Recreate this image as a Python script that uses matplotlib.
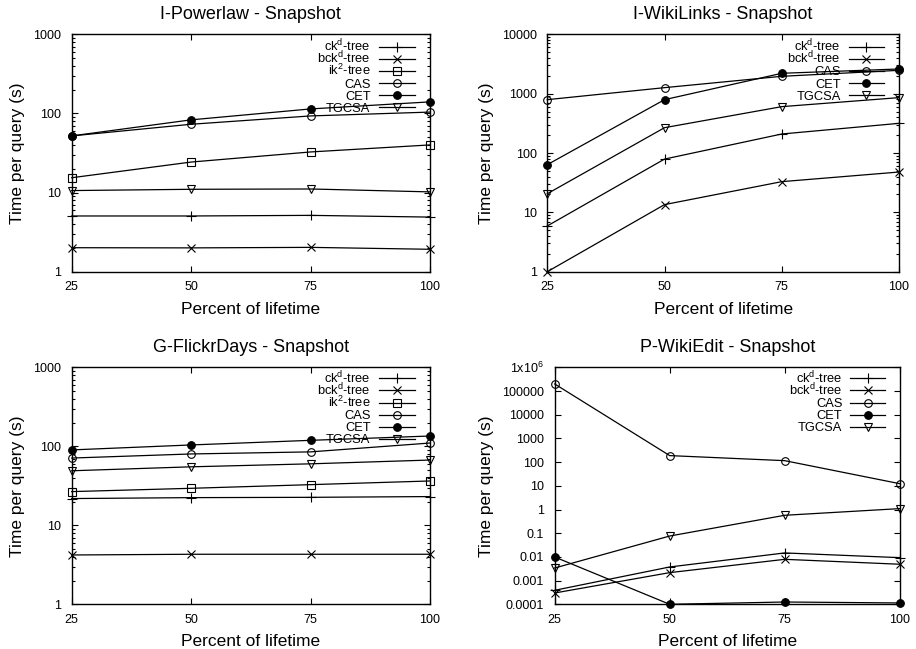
import matplotlib
matplotlib.use("Agg")
import matplotlib.pyplot as plt
from matplotlib.lines import Line2D
from matplotlib.ticker import FixedLocator, LogLocator, NullFormatter, FuncFormatter

plt.rcParams["font.family"] = ["Liberation Sans", "DejaVu Sans"]
plt.rcParams["mathtext.fontset"] = "custom"
plt.rcParams["mathtext.rm"] = "Liberation Sans"
plt.rcParams["mathtext.it"] = "Liberation Sans"

percent = [25, 50, 75, 100]

# I-Powerlaw
pl_ck = [5.06, 5.06, 5.15, 4.9]
pl_bck = [2.01, 2.0, 2.03, 1.92]
pl_ik2 = [15.4, 24.3, 32.6, 40]
pl_cas = [52, 73, 93, 104]
pl_cet = [52, 83, 114, 140]
pl_tgcsa = [10.6, 11.0, 11.1, 10.2]

# I-WikiLinks
wl_ck = [5.9, 79, 209, 316]
wl_bck = [1.0, 13.5, 32.9, 47.8]
wl_cas = [792, 1262, 1960, 2472]
wl_cet = [63.6, 792, 2203, 2605]
wl_tgcsa = [20.6, 267, 604, 857]

# G-FlickrDays
fd_ck = [21.8, 22.4, 22.6, 23.1]
fd_bck = [4.21, 4.3, 4.3, 4.3]
fd_ik2 = [26.7, 29.4, 32.7, 36.4]
fd_cas = [71, 80, 85, 110]
fd_cet = [90, 104, 119, 135]
fd_tgcsa = [49, 55, 60, 67]

# P-WikiEdit
we_ck = [0.00039, 0.00376, 0.0147, 0.0093]
we_bck = [0.0003, 0.00217, 0.0079, 0.0049]
we_cas = [198000, 188, 115, 12.3]
we_cet = [0.0099, 0.0001, 0.000125, 0.000114]
we_tgcsa = [0.0034, 0.076, 0.57, 1.09]

styles = {
    "ck": dict(label="ck$^d$-tree", marker="+", mfc="black", ms=7),
    "bck": dict(label="bck$^d$-tree", marker="x", mfc="black", ms=5.5),
    "ik2": dict(label="ik$^2$-tree", marker="s", mfc="none", ms=5.5),
    "cas": dict(label="CAS", marker="o", mfc="none", ms=5.5),
    "cet": dict(label="CET", marker="o", mfc="black", ms=5.5),
    "tgcsa": dict(label="TGCSA", marker="v", mfc="none", ms=5.5),
}


def fmt_plain(v, pos):
    if v >= 1e6:
        return r"1x10$^{6}$"
    if v >= 1:
        return "%d" % round(v)
    return ("%.10f" % v).rstrip("0")


def key_box(ax, keys, first_row, text_x, line_x0, line_x1):
    # gnuplot-like key: right aligned text, short line sample with marker
    h = ax.bbox.height
    for i, key in enumerate(keys):
        st = styles[key]
        y = 1 - (first_row + i * 12.1) / h
        ax.text(text_x, y - 4.5 / h, st["label"], transform=ax.transAxes,
                ha="right", va="baseline", fontsize=9.3, zorder=4)
        ax.add_line(Line2D([line_x0, line_x1], [y, y], transform=ax.transAxes,
                           color="black", lw=0.9, zorder=4))
        ax.add_line(Line2D([(line_x0 + line_x1) / 2], [y], transform=ax.transAxes,
                           color="black", marker=st["marker"], mfc=st["mfc"],
                           mec="black", mew=0.8, ms=st["ms"], zorder=4))


def draw_panel(ax, title, series, ylim, first_row, minor=True):
    for key, vals in series:
        st = styles[key]
        ax.plot(percent, vals, color="black", lw=0.9, marker=st["marker"],
                mfc=st["mfc"], mec="black", mew=0.8, ms=st["ms"],
                clip_on=False, zorder=3)
    ax.set_yscale("log")
    ax.set_xlim(25, 100)
    ax.set_ylim(*ylim)
    ax.xaxis.set_major_locator(FixedLocator(percent))
    ax.yaxis.set_major_locator(LogLocator(base=10, numticks=20))
    if minor:
        ax.yaxis.set_minor_locator(LogLocator(base=10, subs=range(2, 10), numticks=20))
    else:
        ax.yaxis.set_minor_locator(FixedLocator([]))
    ax.yaxis.set_minor_formatter(NullFormatter())
    ax.yaxis.set_major_formatter(FuncFormatter(fmt_plain))
    ax.tick_params(which="both", direction="in", top=True, right=True,
                   labelsize=9, width=0.8)
    ax.tick_params(axis="y", pad=7.5)
    ax.tick_params(axis="x", pad=7)
    ax.tick_params(which="major", length=4)
    ax.tick_params(which="minor", length=2)
    for sp in ax.spines.values():
        sp.set_linewidth(1.0)
    ax.set_title(title, fontsize=13, pad=11)
    ax.set_xlabel("Percent of lifetime", fontsize=12.5, labelpad=6)
    ax.set_ylabel("Time per query (s)", fontsize=12.5, labelpad=6)
    key_box(ax, [k for k, _ in series], first_row, 0.834, 0.857, 0.958)


fig = plt.figure(figsize=(9.16, 6.49), dpi=100)
W, H = 916, 649
panels = [
    (71.7, 430, 34.3, 271.7),
    (547.3, 899, 34.3, 271.7),
    (71.7, 430, 367.3, 604.3),
    (554.7, 899.7, 367.3, 604.3),
]
axes = [fig.add_axes([l / W, 1 - b / H, (r - l) / W, (b - t) / H]) for l, r, t, b in panels]

draw_panel(axes[0], "I-Powerlaw - Snapshot",
           [("ck", pl_ck), ("bck", pl_bck), ("ik2", pl_ik2), ("cas", pl_cas),
            ("cet", pl_cet), ("tgcsa", pl_tgcsa)], (1, 1000), 12.4)
draw_panel(axes[1], "I-WikiLinks - Snapshot",
           [("ck", wl_ck), ("bck", wl_bck), ("cas", wl_cas), ("cet", wl_cet),
            ("tgcsa", wl_tgcsa)], (1, 10000), 12.4)
draw_panel(axes[2], "G-FlickrDays - Snapshot",
           [("ck", fd_ck), ("bck", fd_bck), ("ik2", fd_ik2), ("cas", fd_cas),
            ("cet", fd_cet), ("tgcsa", fd_tgcsa)], (1, 1000), 11.0)
draw_panel(axes[3], "P-WikiEdit - Snapshot",
           [("ck", we_ck), ("bck", we_bck), ("cas", we_cas), ("cet", we_cet),
            ("tgcsa", we_tgcsa)], (0.0001, 1e6), 11.0, minor=False)

fig.savefig("out.png", dpi=100)
